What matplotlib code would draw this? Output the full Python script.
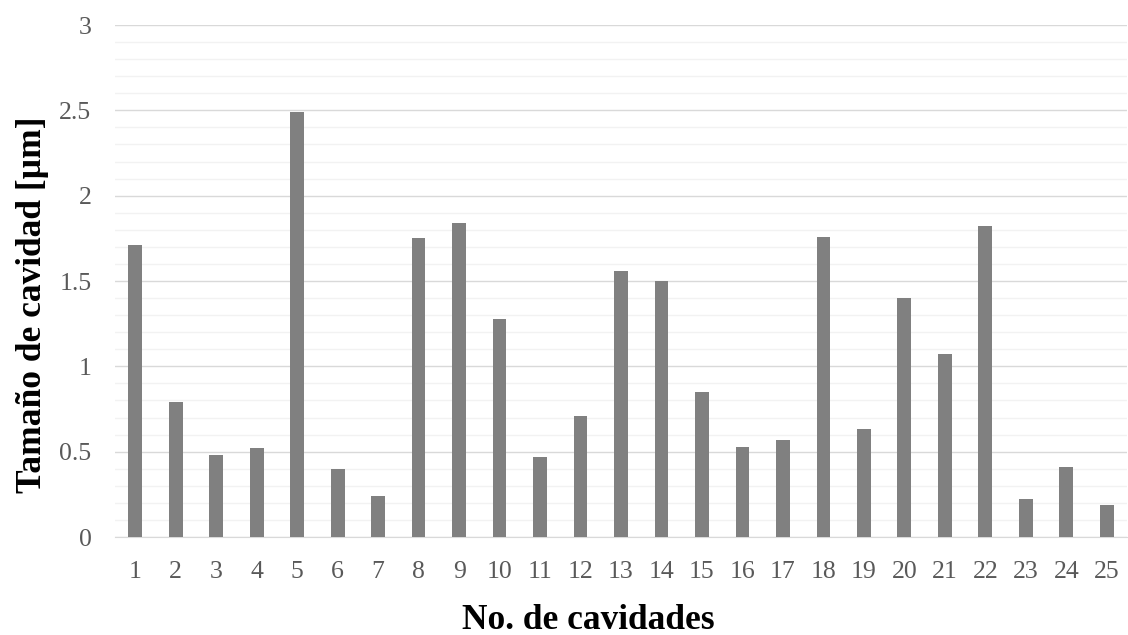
import numpy as np
import matplotlib
matplotlib.use('Agg')
import matplotlib.pyplot as plt

# Data
cavidades = [str(i) for i in range(1, 26)]
tamano = [1.71, 0.79, 0.48, 0.52, 2.49, 0.40, 0.24, 1.75, 1.84, 1.28,
          0.47, 0.71, 1.56, 1.50, 0.85, 0.53, 0.57, 1.76, 0.63, 1.40,
          1.07, 1.82, 0.22, 0.41, 0.19]
y_ticks = [0, 0.5, 1, 1.5, 2, 2.5, 3]
y_ticklabels = ['0', '0.5', '1', '1.5', '2', '2.5', '3']

plt.rcParams['font.family'] = ['Liberation Serif', 'DejaVu Serif']

fig = plt.figure(figsize=(11.28, 6.35), dpi=100)
ax = fig.add_axes([115 / 1128, 1 - 537 / 635, 1012 / 1128, 512 / 635])

x = np.arange(len(cavidades))
ax.bar(x, tamano, width=0.34, color='#808080', zorder=3)

ax.set_xlim(-0.5, len(cavidades) - 0.5)
ax.set_ylim(0, 3)

# grid: major every 0.5, minor every 0.1
ax.set_yticks(y_ticks)
ax.set_yticklabels(y_ticklabels)
ax.set_yticks(np.arange(0, 3.01, 0.1), minor=True)
ax.grid(axis='y', which='major', color='#d9d9d9', linewidth=1.0, zorder=0)
ax.grid(axis='y', which='minor', color='#f2f2f2', linewidth=1.0, zorder=0)

ax.set_xticks(x)
ax.set_xticklabels(cavidades)
ax.tick_params(axis='both', which='both', length=0, labelsize=18.5, colors='#595959')
ax.tick_params(axis='x', pad=17)
ax.tick_params(axis='y', pad=17)

for side in ['top', 'right', 'left']:
    ax.spines[side].set_visible(False)
ax.spines['bottom'].set_color('#d9d9d9')

ax.set_xlabel('No. de cavidades', fontsize=25.5, fontweight='bold')
ax.xaxis.set_label_coords((588 - 115) / 1012, -(604 - 537) / 512)
ax.set_ylabel('Tamaño de cavidad [µm]', fontsize=25.5, fontweight='bold')
ax.yaxis.set_label_coords(-(115 - 49) / 1012, (537 - 305) / 512)

fig.savefig('out.png', dpi=100)
